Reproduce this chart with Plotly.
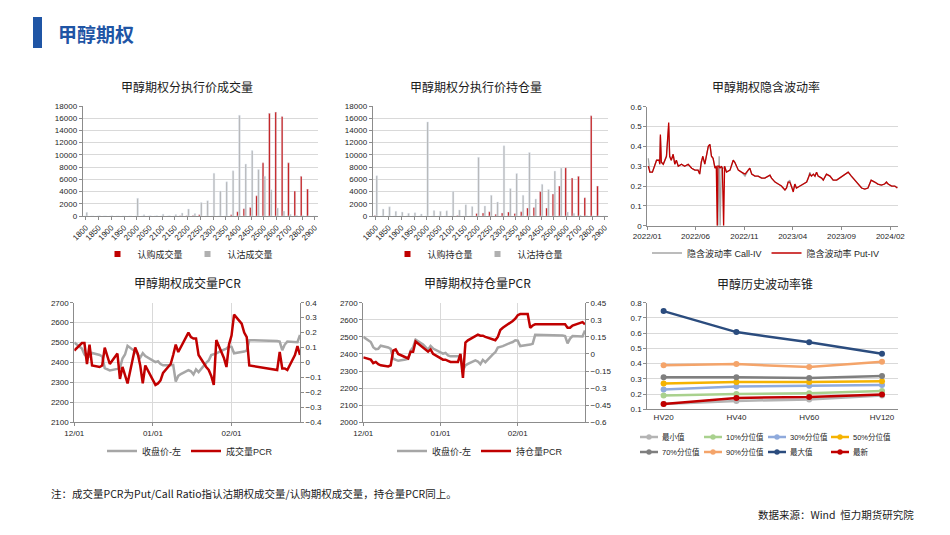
import plotly.graph_objects as go

# ---------------- data ----------------
strikes = [1800, 1825, 1850, 1875, 1900, 1925, 1950, 1975, 2000, 2025, 2050, 2075, 2100, 2125,
           2150, 2175, 2200, 2225, 2250, 2275, 2300, 2325, 2350, 2375, 2400, 2425, 2450, 2475,
           2500, 2550, 2600, 2650, 2700, 2750, 2800, 2850, 2900]

call_volume = [0, 0, 0, 0, 0, 0, 0, 0, 0, 0, 0, 0, 0, 0,
               0, 50, 50, 100, 200, 0, 0, 0, 0, 200, 700, 1200, 1400, 3300,
               8700, 16800, 17000, 16300, 8700, 4100, 6500, 4400, 0]
put_volume = [600, 0, 50, 0, 50, 0, 0, 0, 2900, 200, 50, 50, 300, 50,
              250, 500, 1150, 400, 2200, 2500, 7000, 4100, 5600, 7400, 16500, 8500, 10700, 7600,
              6500, 4300, 1300, 800, 300, 100, 50, 0, 0]

call_oi = [100, 0, 0, 0, 0, 0, 0, 0, 0, 0, 0, 0, 0, 100,
           0, 0, 400, 500, 700, 300, 500, 650, 400, 700, 1300, 1400, 4000, 1300,
           3600, 4900, 7900, 6200, 6500, 3000, 16400, 4900, 0]
put_oi = [6600, 1150, 1500, 780, 650, 450, 550, 330, 15400, 880, 780, 850, 4050, 1000,
          1850, 1550, 9600, 1650, 3400, 2300, 11500, 4500, 6950, 3400, 10400, 2800, 5200, 4350,
          7350, 7850, 650, 450, 150, 50, 0, 0, 0]

iv_dates = ["2022-01-04", "2022-01-09", "2022-01-17", "2022-01-30", "2022-02-07", "2022-02-09", "2022-02-11", "2022-02-14", "2022-02-20", "2022-02-25",
            "2022-03-02", "2022-03-09", "2022-03-12", "2022-03-17", "2022-03-23", "2022-03-28", "2022-04-02", "2022-04-08", "2022-04-18", "2022-04-28",
            "2022-05-09", "2022-05-20", "2022-05-30", "2022-06-09", "2022-06-14", "2022-06-19", "2022-06-24", "2022-06-30", "2022-07-11", "2022-07-16",
            "2022-07-21", "2022-07-26", "2022-08-01", "2022-08-05", "2022-08-08", "2022-08-10", "2022-08-14", "2022-08-17", "2022-08-21", "2022-08-24",
            "2022-08-28", "2022-08-31", "2022-09-06", "2022-09-17", "2022-09-27", "2022-10-02", "2022-10-13", "2022-10-23", "2022-11-03", "2022-11-13",
            "2022-11-18", "2022-11-24", "2022-12-04", "2022-12-14", "2022-12-25", "2023-01-04", "2023-01-15", "2023-01-20", "2023-01-25", "2023-02-05",
            "2023-02-15", "2023-02-25", "2023-03-08", "2023-03-13", "2023-03-18", "2023-03-23", "2023-03-28", "2023-04-03", "2023-04-08", "2023-04-13",
            "2023-04-24", "2023-05-04", "2023-05-15", "2023-05-20", "2023-05-25", "2023-05-30", "2023-06-05", "2023-06-10", "2023-06-15", "2023-06-20",
            "2023-07-01", "2023-07-06", "2023-07-11", "2023-07-16", "2023-07-27", "2023-08-06", "2023-08-17", "2023-08-27", "2023-09-06", "2023-09-17",
            "2023-09-22", "2023-10-02", "2023-10-13", "2023-10-23", "2023-11-03", "2023-11-13", "2023-11-23", "2023-11-28", "2023-12-03", "2023-12-14",
            "2023-12-24", "2024-01-04", "2024-01-14", "2024-01-20", "2024-01-25", "2024-02-05", "2024-02-15", "2024-02-23"]

iv_put = [0.30, 0.27, 0.27, 0.33, 0.33, 0.31, 0.46, 0.32, 0.31, 0.33,
          0.35, 0.52, 0.35, 0.33, 0.36, 0.31, 0.33, 0.30, 0.31, 0.30,
          0.31, 0.29, 0.28, 0.28, 0.26, 0.32, 0.35, 0.31, 0.40, 0.41,
          0.35, 0.34, 0.29, 0.30, 0.00, 0.30, 0.30, 0.29, 0.30, 0.29,
          0.00, 0.30, 0.27, 0.28, 0.33, 0.32, 0.28, 0.27, 0.26, 0.28,
          0.29, 0.26, 0.25, 0.25, 0.24, 0.24, 0.25, 0.255, 0.24, 0.22,
          0.21, 0.20, 0.18, 0.19, 0.22, 0.22, 0.20, 0.17, 0.21, 0.19,
          0.20, 0.21, 0.22, 0.24, 0.26, 0.25, 0.26, 0.25, 0.27, 0.25,
          0.24, 0.23, 0.25, 0.26, 0.25, 0.23, 0.23, 0.24, 0.25, 0.265,
          0.27, 0.25, 0.23, 0.21, 0.19, 0.185, 0.19, 0.21, 0.23, 0.22,
          0.21, 0.205, 0.21, 0.22, 0.21, 0.20, 0.20, 0.19]

iv_call = [0.34, 0.27, 0.27, 0.33, 0.33, 0.31, 0.45, 0.32, 0.31, 0.33,
           0.35, 0.50, 0.35, 0.33, 0.36, 0.31, 0.33, 0.30, 0.31, 0.30,
           0.31, 0.29, 0.28, 0.28, 0.26, 0.32, 0.35, 0.31, 0.40, 0.41,
           0.35, 0.34, 0.29, 0.30, 0.30, 0.00, 0.35, 0.00, 0.30, 0.29,
           0.29, 0.30, 0.27, 0.28, 0.33, 0.32, 0.28, 0.27, 0.25, 0.28,
           0.29, 0.26, 0.25, 0.25, 0.24, 0.24, 0.25, 0.255, 0.24, 0.22,
           0.21, 0.20, 0.18, 0.19, 0.22, 0.23, 0.20, 0.18, 0.21, 0.19,
           0.20, 0.21, 0.22, 0.24, 0.27, 0.25, 0.26, 0.25, 0.27, 0.25,
           0.24, 0.23, 0.25, 0.26, 0.25, 0.23, 0.23, 0.24, 0.25, 0.265,
           0.27, 0.25, 0.23, 0.21, 0.19, 0.185, 0.19, 0.21, 0.23, 0.22,
           0.21, 0.205, 0.21, 0.22, 0.21, 0.20, 0.20, 0.19]

pcr_dates = ["2023-12-01", "2023-12-04", "2023-12-05", "2023-12-06", "2023-12-07", "2023-12-08", "2023-12-11",
             "2023-12-12", "2023-12-13", "2023-12-14", "2023-12-15", "2023-12-18", "2023-12-19", "2023-12-20",
             "2023-12-21", "2023-12-22", "2023-12-25", "2023-12-26", "2023-12-27", "2023-12-28", "2023-12-29",
             "2024-01-02", "2024-01-03", "2024-01-04", "2024-01-05", "2024-01-08", "2024-01-09", "2024-01-10",
             "2024-01-11", "2024-01-12", "2024-01-15", "2024-01-16", "2024-01-17", "2024-01-18", "2024-01-19",
             "2024-01-22", "2024-01-23", "2024-01-24", "2024-01-25", "2024-01-26", "2024-01-29", "2024-01-30",
             "2024-01-31", "2024-02-01", "2024-02-02", "2024-02-05", "2024-02-06", "2024-02-07", "2024-02-08",
             "2024-02-19", "2024-02-20", "2024-02-21", "2024-02-22", "2024-02-23", "2024-02-26", "2024-02-27",
             "2024-02-28"]

close_price = [2500, 2470, 2440, 2428, 2430, 2448, 2438, 2430, 2372, 2365, 2360, 2368, 2372, 2420,
               2440, 2484, 2455, 2440, 2425, 2447, 2432,
               2402, 2406, 2392, 2386, 2386, 2388, 2305, 2333, 2342, 2362, 2356, 2340, 2365, 2352,
               2398, 2410, 2437, 2440, 2446, 2465, 2470, 2480,
               2478, 2446, 2450, 2455, 2460, 2512, 2508, 2505, 2462, 2490, 2505, 2505, 2502, 2538]

volume_pcr = [0.08, 0.13, 0.13, -0.01, 0.12, -0.02, -0.03, -0.02, 0.10, 0.05, -0.01, 0.06, -0.11, -0.03,
              -0.08, -0.14, 0.10, 0.06, -0.02, -0.14, -0.02,
              -0.15, -0.14, -0.12, -0.07, -0.01, 0.05, 0.12, 0.07, 0.10, 0.20, 0.17, 0.16, 0.16, 0.05,
              -0.03, -0.05, -0.09, -0.15, 0.15, 0.03, -0.03, 0.12,
              0.18, 0.32, 0.26, 0.20, 0.17, -0.02, -0.05, 0.07, -0.04, -0.04, -0.05, 0.05, 0.11, 0.05]

oi_pcr = [-0.03, -0.05, -0.08, -0.07, -0.09, -0.10, -0.11, -0.10, 0.03, 0.04, 0.00, -0.03, -0.04, 0.02,
          0.02, 0.11, 0.06, 0.04, 0.02, 0.04, 0.00,
          -0.05, -0.05, -0.06, -0.07, -0.07, 0.00, -0.21, 0.10, 0.12, 0.16, 0.17, 0.16, 0.16, 0.15,
          0.13, 0.12, 0.15, 0.21, 0.23, 0.27, 0.29, 0.31,
          0.34, 0.35, 0.35, 0.23, 0.25, 0.26, 0.26, 0.26, 0.23, 0.23, 0.25, 0.27, 0.28, 0.26]

hv_windows = ["HV20", "HV40", "HV60", "HV120"]
hv_names = ["最小值", "10%分位值", "30%分位值", "50%分位值", "70%分位值", "90%分位值", "最大值", "最新"]
hv_min = [0.135, 0.155, 0.165, 0.19]
hv_p10 = [0.19, 0.20, 0.205, 0.22]
hv_p30 = [0.23, 0.25, 0.255, 0.26]
hv_p50 = [0.27, 0.28, 0.28, 0.285]
hv_p70 = [0.31, 0.31, 0.305, 0.318]
hv_p90 = [0.39, 0.397, 0.377, 0.413]
hv_max = [0.745, 0.607, 0.54, 0.465]
hv_latest = [0.135, 0.175, 0.18, 0.198]
hv_values = [hv_min, hv_p10, hv_p30, hv_p50, hv_p70, hv_p90, hv_max, hv_latest]
hv_colors = ["#B4B4B4", "#A9D18E", "#8FAADC", "#F5B301", "#7F7F7F", "#F4A46A", "#2B4C7E", "#C00000"]

# ---------------- styling helpers ----------------
W, H = 950, 535
RED = "#C00000"
GRAY = "#B0B0B0"
LGRAY = "#A6A6A6"
GRID = "#D9D9D9"
AXL = "#8C8C8C"
FONT = "Liberation Sans, Noto Sans CJK SC, sans-serif"
CJK = "Noto Sans CJK SC, sans-serif"


def fx(x):
    return x / W


def fy(y):
    return 1 - y / H


tickf = dict(size=8, color="#262626", family=FONT)
strike_labels = [str(s) for s in strikes]
strike_ticks = strike_labels[::2]

fig = go.Figure()


def legend_square(name, color, xa, ya, leg):
    # legend-only entry with a small square, like the reference
    return go.Scatter(x=[None], y=[None], mode="markers", name=name,
                      marker=dict(symbol="square", size=6, color=color),
                      xaxis=xa, yaxis=ya, legend=leg, showlegend=True)


# chart 1: volume by strike
fig.add_trace(go.Bar(x=strike_labels, y=call_volume, name="认购成交量", marker_color=RED,
                     xaxis="x", yaxis="y", showlegend=False))
fig.add_trace(go.Bar(x=strike_labels, y=put_volume, name="认沽成交量", marker_color=GRAY,
                     xaxis="x", yaxis="y", showlegend=False))
fig.add_trace(legend_square("认购成交量", RED, "x", "y", "legend"))
fig.add_trace(legend_square("认沽成交量", GRAY, "x", "y", "legend"))
# chart 2: open interest by strike
fig.add_trace(go.Bar(x=strike_labels, y=call_oi, name="认购持仓量", marker_color=RED,
                     xaxis="x2", yaxis="y2", showlegend=False))
fig.add_trace(go.Bar(x=strike_labels, y=put_oi, name="认沽持仓量", marker_color=GRAY,
                     xaxis="x2", yaxis="y2", showlegend=False))
fig.add_trace(legend_square("认购持仓量", RED, "x2", "y2", "legend2"))
fig.add_trace(legend_square("认沽持仓量", GRAY, "x2", "y2", "legend2"))
# chart 3: implied vol
fig.add_trace(go.Scatter(x=iv_dates, y=iv_call, mode="lines", name="隐含波动率 Call-IV",
                         line=dict(color=LGRAY, width=1.3), xaxis="x3", yaxis="y3", legend="legend3"))
fig.add_trace(go.Scatter(x=iv_dates, y=iv_put, mode="lines", name="隐含波动率 Put-IV",
                         line=dict(color=RED, width=1.3), xaxis="x3", yaxis="y3", legend="legend3"))
# chart 4: volume PCR
fig.add_trace(go.Scatter(x=pcr_dates, y=close_price, mode="lines", name="收盘价-左",
                         line=dict(color=LGRAY, width=2.5), xaxis="x4", yaxis="y4", legend="legend4"))
fig.add_trace(go.Scatter(x=pcr_dates, y=volume_pcr, mode="lines", name="成交量PCR",
                         line=dict(color=RED, width=2.5), xaxis="x4", yaxis="y7", legend="legend4"))
# chart 5: OI PCR
fig.add_trace(go.Scatter(x=pcr_dates, y=close_price, mode="lines", name="收盘价-左",
                         line=dict(color=LGRAY, width=2.5), xaxis="x5", yaxis="y5", legend="legend5"))
fig.add_trace(go.Scatter(x=pcr_dates, y=oi_pcr, mode="lines", name="持仓量PCR",
                         line=dict(color=RED, width=2.5), xaxis="x5", yaxis="y8", legend="legend5"))
# chart 6: volatility cone (legend drawn compactly below, as in the reference)
for name, vals, col in zip(hv_names, hv_values, hv_colors):
    fig.add_trace(go.Scatter(x=hv_windows, y=vals, mode="lines+markers", name=name,
                             line=dict(color=col, width=2.5), marker=dict(color=col, size=6),
                             xaxis="x6", yaxis="y6", showlegend=False))


def xcat(dom, anchor, **kw):
    d = dict(domain=dom, anchor=anchor, showline=True, linecolor=AXL, linewidth=1,
             ticks="outside", ticklen=3, tickcolor=AXL, tickfont=tickf, showgrid=False,
             zeroline=False, fixedrange=True)
    d.update(kw)
    return d


def yax(dom, anchor, **kw):
    d = dict(domain=dom, anchor=anchor, showline=True, linecolor=AXL, linewidth=1,
             ticks="outside", ticklen=3, tickcolor=AXL, tickfont=tickf, showgrid=True,
             gridcolor=GRID, gridwidth=1, zeroline=False, fixedrange=True)
    d.update(kw)
    return d


def legend_at(x, y, anchor="center", size=9):
    return dict(orientation="h", x=fx(x), y=fy(y), xanchor=anchor, yanchor="middle",
                font=dict(size=size, color="#262626", family=FONT), bgcolor="rgba(0,0,0,0)",
                itemwidth=30, tracegroupgap=0)


bar_y = [fy(216), fy(106)]
pcr_y = [fy(422.3), fy(302.7)]

layout = dict(
    width=W, height=H, margin=dict(l=0, r=0, t=0, b=0, autoexpand=False),
    paper_bgcolor="white", plot_bgcolor="white",
    font=dict(family=FONT, size=9, color="#262626"),
    barmode="group", bargap=0.42, bargroupgap=0.1,
    showlegend=True, hovermode=False,
    xaxis=xcat([fx(82.7), fx(318)], "y", type="category", tickmode="array",
               tickvals=strike_ticks, ticktext=strike_ticks, tickangle=-45),
    yaxis=yax(bar_y, "x", range=[0, 18000], dtick=2000, tickformat="d"),
    xaxis2=xcat([fx(372.7), fx(608)], "y2", type="category", tickmode="array",
                tickvals=strike_ticks, ticktext=strike_ticks, tickangle=-45),
    yaxis2=yax(bar_y, "x2", range=[0, 18000], dtick=2000, tickformat="d"),
    xaxis3=xcat([fx(647.3), fx(898)], "y3", type="date", range=["2022-01-01", "2024-02-25"],
                tick0="2022-01-01", dtick="M5", tickformat="%Y/%m"),
    yaxis3=yax([fy(225.7), fy(106.7)], "x3", range=[0, 0.6], dtick=0.1),
    xaxis4=xcat([fx(74.3), fx(300)], "y4", type="date", range=["2023-12-01", "2024-02-28"],
                tickmode="array", tickvals=["2023-12-01", "2024-01-01", "2024-02-01"],
                tickformat="%m/%d", showgrid=True, gridcolor=GRID),
    yaxis4=yax(pcr_y, "x4", range=[2100, 2700], dtick=100),
    yaxis7=yax(pcr_y, "x4", overlaying="y4", side="right", range=[-0.4, 0.4], dtick=0.1,
               showgrid=False),
    xaxis5=xcat([fx(363.3), fx(585)], "y5", type="date", range=["2023-12-01", "2024-02-28"],
                tickmode="array", tickvals=["2023-12-01", "2024-01-01", "2024-02-01"],
                tickformat="%m/%d", showgrid=True, gridcolor=GRID),
    yaxis5=yax(pcr_y, "x5", range=[2000, 2700], dtick=100),
    yaxis8=yax(pcr_y, "x5", overlaying="y5", side="right", range=[-0.6, 0.45], dtick=0.15,
               showgrid=False),
    xaxis6=xcat([fx(647.3), fx(898.3)], "y6", type="category", ticks=""),
    yaxis6=yax([fy(409.3), fy(302.7)], "x6", range=[0.1, 0.8], dtick=0.1),
    legend=legend_at(188, 254),
    legend2=legend_at(478, 254),
    legend3=legend_at(766, 253),
    legend4=legend_at(190, 451),
    legend5=legend_at(480, 451),
)
fig.update_layout(**layout)

titles = [("甲醇期权分执行价成交量", 187, 86), ("甲醇期权分执行价持仓量", 476, 86),
          ("甲醇期权隐含波动率", 766, 86), ("甲醇期权成交量PCR", 187, 282),
          ("甲醇期权持仓量PCR", 477, 282), ("甲醇历史波动率锥", 765, 283)]
ann = []
for t, x, y in titles:
    ann.append(dict(text=t, x=fx(x), y=fy(y), xref="paper", yref="paper", showarrow=False,
                    xanchor="center", yanchor="middle",
                    font=dict(size=12, color="#1a1a1a", family=CJK)))
ann.append(dict(text="<b>甲醇期权</b>", x=fx(56), y=fy(34), xref="paper", yref="paper",
                showarrow=False, xanchor="left", yanchor="middle",
                font=dict(size=19, color="#1F55A5", family=CJK)))
ann.append(dict(text="注：成交量PCR为Put/Call Ratio指认沽期权成交量/认购期权成交量，持仓量PCR同上。",
                x=fx(49), y=fy(493), xref="paper", yref="paper", showarrow=False,
                xanchor="left", yanchor="middle",
                font=dict(size=10.5, color="#1a1a1a", family=CJK)))
ann.append(dict(text="数据来源：Wind  恒力期货研究院", x=fx(916), y=fy(514), xref="paper",
                yref="paper", showarrow=False, xanchor="right", yanchor="middle",
                font=dict(size=10.5, color="#1a1a1a", family=CJK)))

# compact two-row legend for the volatility cone
shapes = [dict(type="rect", xref="paper", yref="paper", x0=fx(33), x1=fx(42), y0=fy(48), y1=fy(17),
               fillcolor="#1F55A5", line=dict(width=0))]
leg_cols = [640, 704, 768, 831]
leg_rows = [437, 452]
for i, (name, col) in enumerate(zip(hv_names, hv_colors)):
    lx = leg_cols[i % 4]
    ly = leg_rows[i // 4]
    shapes.append(dict(type="line", xref="paper", yref="paper", x0=fx(lx), x1=fx(lx + 18),
                       y0=fy(ly), y1=fy(ly), line=dict(color=col, width=2.5)))
    shapes.append(dict(type="circle", xref="paper", yref="paper", x0=fx(lx + 6.5), x1=fx(lx + 11.5),
                       y0=fy(ly + 2.5), y1=fy(ly - 2.5), fillcolor=col, line=dict(color=col, width=0.5)))
    ann.append(dict(text=name, x=fx(lx + 20), y=fy(ly), xref="paper", yref="paper",
                    showarrow=False, xanchor="left", yanchor="middle",
                    font=dict(size=7.5, color="#262626", family=FONT)))

fig.update_layout(annotations=ann, shapes=shapes)

fig.write_html("out.html", config={"displayModeBar": False, "responsive": False},
               post_script="document.body.style.margin='0px';document.body.style.overflow='hidden';")
